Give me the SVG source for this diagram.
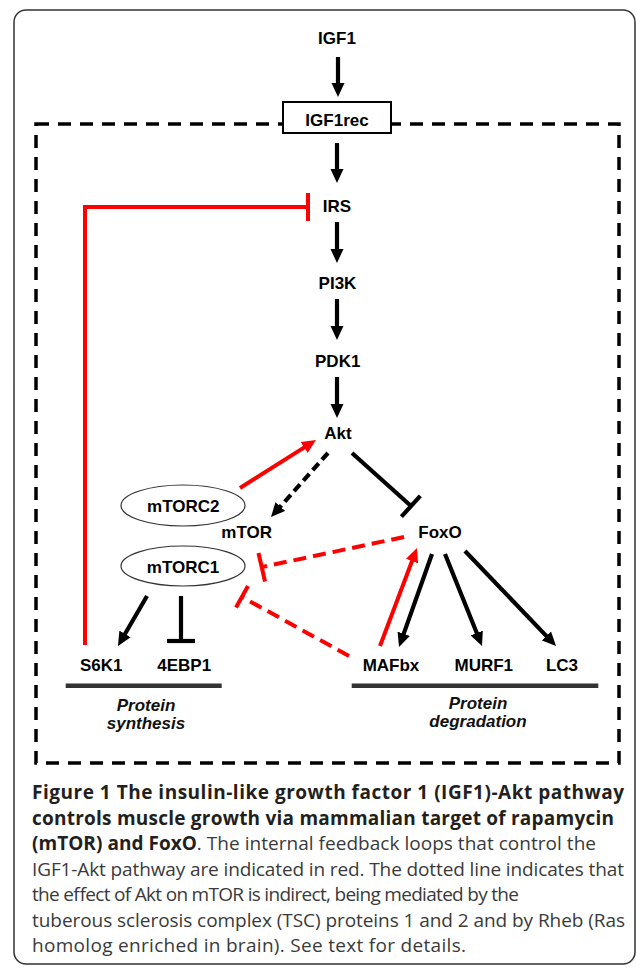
<svg xmlns="http://www.w3.org/2000/svg" width="636" height="969" viewBox="0 0 636 969">
<defs>
<style>
.lbl{font-family:"Liberation Sans",Arial,sans-serif;font-weight:bold;font-size:17px;fill:#000;text-anchor:middle}
.it{font-family:"Liberation Sans",Arial,sans-serif;font-weight:bold;font-style:italic;font-size:17px;fill:#111;text-anchor:middle}
.blk{stroke:#000;stroke-width:4.2;fill:none}
.red{stroke:#ff0000;stroke-width:4;fill:none}
.reddash{stroke:#ff0000;stroke-width:4;fill:none;stroke-dasharray:13 7}
.ell{fill:#fff;stroke:#333;stroke-width:1.2}
.cap{font-family:"Open Sans","DejaVu Sans",sans-serif;font-size:19px;fill:#3a3a3a}
.capb{font-weight:bold;fill:#231f20}
</style>
<marker id="ah" markerUnits="userSpaceOnUse" markerWidth="14" markerHeight="14" viewBox="0 0 14 14" refX="3" refY="7" orient="auto"><path d="M0,0.5 L14,7 L0,13.5 z" fill="#000"/></marker>
<marker id="ahr" markerUnits="userSpaceOnUse" markerWidth="14" markerHeight="14" viewBox="0 0 14 14" refX="3" refY="7" orient="auto"><path d="M0,0.5 L14,7 L0,13.5 z" fill="#ff0000"/></marker>
</defs>
<rect x="0" y="0" width="636" height="969" fill="#fff"/>
<rect id="frame" x="14" y="10" width="621" height="954" rx="12" ry="12" fill="none" stroke="#333" stroke-width="1.5"/>
<rect id="cell" x="36" y="124" width="583" height="639" fill="none" stroke="#000" stroke-width="3.5" stroke-dasharray="13 9"/>

<g id="connectors">
<line class="blk" x1="338" y1="57" x2="338" y2="86" stroke-width="4.5" marker-end="url(#ah)"/>
<line class="blk" x1="337" y1="143" x2="337" y2="172" stroke-width="4.5" marker-end="url(#ah)"/>
<line class="blk" x1="337" y1="222" x2="337" y2="252" stroke-width="4.5" marker-end="url(#ah)"/>
<line class="blk" x1="337" y1="299" x2="337" y2="329" stroke-width="4.5" marker-end="url(#ah)"/>
<line class="blk" x1="337" y1="377" x2="337" y2="407" stroke-width="4.5" marker-end="url(#ah)"/>
<path class="red" d="M85,645 V207 H308"/>
<line class="red" x1="308" y1="193" x2="308" y2="221"/>
<line class="red" x1="240" y1="488" x2="306.7" y2="445.9" marker-end="url(#ahr)"/>
<line class="blk" x1="328" y1="453" x2="278.3" y2="508.8" stroke-width="4.6" stroke-dasharray="9 5" marker-end="url(#ah)"/>
<line class="blk" x1="352" y1="453" x2="411" y2="506"/>
<line class="blk" x1="420.3" y1="495.9" x2="401.4" y2="516.7"/>
<line class="reddash" x1="404" y1="537" x2="262" y2="567"/>
<line class="red" x1="258.5" y1="553" x2="265" y2="581.5"/>
<line class="reddash" x1="349" y1="656" x2="242" y2="597"/>
<line class="red" x1="248" y1="586" x2="236" y2="607.5"/>
<line class="red" x1="380" y1="646" x2="413.1" y2="558.3" marker-end="url(#ahr)"/>
<line class="blk" x1="432" y1="554" x2="402.7" y2="636.6" marker-end="url(#ah)"/>
<line class="blk" x1="445" y1="554" x2="477.9" y2="635.8" marker-end="url(#ah)"/>
<line class="blk" x1="465" y1="551" x2="548.4" y2="638.1" marker-end="url(#ah)"/>
<line class="blk" x1="147" y1="596" x2="123.5" y2="636.5" marker-end="url(#ah)"/>
<line class="blk" x1="181" y1="596" x2="181" y2="641"/>
<line class="blk" x1="167" y1="641" x2="195" y2="641"/>
</g>

<g id="IGF1"><text class="lbl" x="337" y="44">IGF1</text></g>
<g id="IGF1rec"><rect x="283" y="102" width="108" height="31" fill="#fff" stroke="#000" stroke-width="2"/><text class="lbl" x="337" y="126">IGF1rec</text></g>
<g id="IRS"><text class="lbl" x="337" y="212">IRS</text></g>
<g id="PI3K"><text class="lbl" x="337.5" y="288.5">PI3K</text></g>
<g id="PDK1"><text class="lbl" x="337.7" y="367">PDK1</text></g>
<g id="Akt"><text class="lbl" x="338" y="439">Akt</text></g>
<g id="mTORC2"><ellipse class="ell" cx="183" cy="505.5" rx="62" ry="20.5"/><text class="lbl" x="183.3" y="512">mTORC2</text></g>
<g id="mTOR"><text class="lbl" x="246.7" y="537.5">mTOR</text></g>
<g id="mTORC1"><ellipse class="ell" cx="183" cy="566" rx="62" ry="20"/><text class="lbl" x="183" y="573">mTORC1</text></g>
<g id="FoxO"><text class="lbl" x="440" y="537.5">FoxO</text></g>
<g id="S6K1"><text class="lbl" x="101.3" y="671">S6K1</text></g>
<g id="4EBP1"><text class="lbl" x="184.2" y="671">4EBP1</text></g>
<g id="MAFbx"><text class="lbl" x="391" y="671">MAFbx</text></g>
<g id="MURF1"><text class="lbl" x="483.8" y="671">MURF1</text></g>
<g id="LC3"><text class="lbl" x="562" y="671">LC3</text></g>
<g id="synthesis"><line x1="65.7" y1="685.7" x2="221.7" y2="685.7" stroke="#333" stroke-width="4.5"/><text class="it" x="146" y="710.5">Protein</text><text class="it" x="146" y="729">synthesis</text></g>
<g id="degradation"><line x1="351.7" y1="685.7" x2="598.3" y2="685.7" stroke="#333" stroke-width="4.5"/><text class="it" x="478" y="708.5">Protein</text><text class="it" x="478" y="727">degradation</text></g>

<g id="caption">
<text class="cap capb" x="32" y="799" textLength="592">Figure 1 The insulin-like growth factor 1 (IGF1)-Akt pathway</text>
<text class="cap capb" x="32" y="824.6" textLength="582">controls muscle growth via mammalian target of rapamycin</text>
<text class="cap" x="32" y="850.1" textLength="564"><tspan class="capb">(mTOR) and FoxO</tspan>. The internal feedback loops that control the</text>
<text class="cap" x="32" y="875.7" textLength="592">IGF1-Akt pathway are indicated in red. The dotted line indicates that</text>
<text class="cap" x="32" y="901.2" textLength="487">the effect of Akt on mTOR is indirect, being mediated by the</text>
<text class="cap" x="32" y="926.8" textLength="593">tuberous sclerosis complex (TSC) proteins 1 and 2 and by Rheb (Ras</text>
<text class="cap" x="32" y="952.3" textLength="434">homolog enriched in brain). See text for details.</text>
</g>
</svg>
